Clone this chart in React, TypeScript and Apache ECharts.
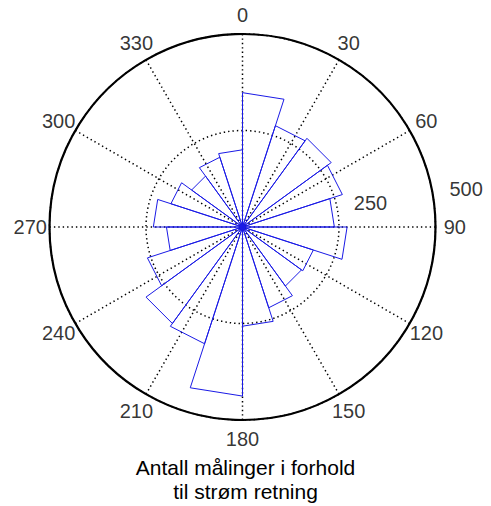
import React, { useEffect, useRef } from "react";
import * as echarts from "echarts";

// Rose-plot bins (compass degrees, clockwise from north) and counts per bin
const binStart = [0, 18, 36, 54, 72, 90, 108, 126, 144, 162, 180, 198, 216, 234, 252, 270, 288, 306, 324, 342];
const binEnd = [18, 36, 54, 72, 90, 108, 126, 144, 162, 180, 198, 216, 234, 252, 270, 288, 306, 324, 342, 360];
const counts = [348, 276, 284, 272, 238, 271, 193, 189, 220, 257, 438, 318, 309, 259, 197, 231, 195, 163, 190, 200];

// Tick labels
const angleTicks = [0, 30, 60, 90, 120, 150, 180, 210, 240, 270, 300, 330];
const radiusTicks = [250, 500];
const titleLines = ["Antall målinger i forhold", "til strøm retning"];

const FONT = "'Liberation Sans', Arial, Helvetica, sans-serif";

export default function App() {
  const ref = useRef<HTMLDivElement>(null);

  useEffect(() => {
    if (!ref.current) return;
    const chart = echarts.init(ref.current, undefined, { renderer: "svg" });
    const rmax = radiusTicks[radiusTicks.length - 1];
    const rose = counts.map((c, i) => [c, binStart[i], binEnd[i]]);
    const dotted = { color: "#000", width: 1.5, type: [1.4, 3] as number[] };

    chart.setOption({
      animation: false,
      backgroundColor: "#fff",
      title: {
        text: titleLines.join("\n"),
        left: "center",
        top: 455,
        padding: 0,
        textStyle: {
          fontFamily: FONT,
          fontSize: 21,
          fontWeight: "normal",
          color: "#000",
          lineHeight: 24,
        },
      },
      polar: { center: [242.5, 227], radius: 193 },
      angleAxis: {
        type: "value",
        min: 0,
        max: 360,
        interval: 30,
        startAngle: 90,
        clockwise: true,
        axisLine: { show: true, lineStyle: { color: "#000", width: 2.2 } },
        axisTick: { show: false },
        axisLabel: { show: false },
        splitLine: { show: true, lineStyle: dotted },
      },
      radiusAxis: {
        type: "value",
        min: 0,
        max: rmax,
        interval: 250,
        axisLine: { show: false },
        axisTick: { show: false },
        axisLabel: { show: false },
        splitLine: { show: true, lineStyle: dotted },
      },
      series: [
        {
          type: "custom",
          coordinateSystem: "polar",
          silent: true,
          encode: { radius: 0, angle: 1 },
          data: rose,
          renderItem: (_params: any, api: any) => {
            const r = api.value(0);
            const a1 = api.value(1);
            const a2 = api.value(2);
            const c = api.coord([0, a1]);
            const p1 = api.coord([r, a1]);
            const p2 = api.coord([r, a2]);
            return {
              type: "polygon",
              shape: { points: [c, p1, p2] },
              style: { fill: "none", stroke: "#1a1ae6", lineWidth: 1 },
            };
          },
        },
        {
          type: "scatter",
          coordinateSystem: "polar",
          silent: true,
          clip: false,
          symbolSize: 0,
          data: angleTicks.map((a) => [rmax * 1.1, a]),
          label: {
            show: true,
            position: "inside",
            formatter: (p: any) => String(p.value[1]),
            fontFamily: FONT,
            fontSize: 20,
            color: "#000",
          },
        },
        {
          type: "scatter",
          coordinateSystem: "polar",
          silent: true,
          clip: false,
          symbolSize: 0,
          data: radiusTicks.map((r) => [r + 250 / 20, 82]),
          label: {
            show: true,
            position: "inside",
            align: "left",
            verticalAlign: "bottom",
            offset: [11, 0],
            formatter: (p: any) => String(p.value[0] - 250 / 20),
            fontFamily: FONT,
            fontSize: 20,
            color: "#000",
          },
        },
      ],
    });

    return () => chart.dispose();
  }, []);

  return (
    <div
      ref={ref}
      style={{ position: "fixed", left: 0, top: 0, width: 491, height: 506, background: "#fff" }}
    />
  );
}
